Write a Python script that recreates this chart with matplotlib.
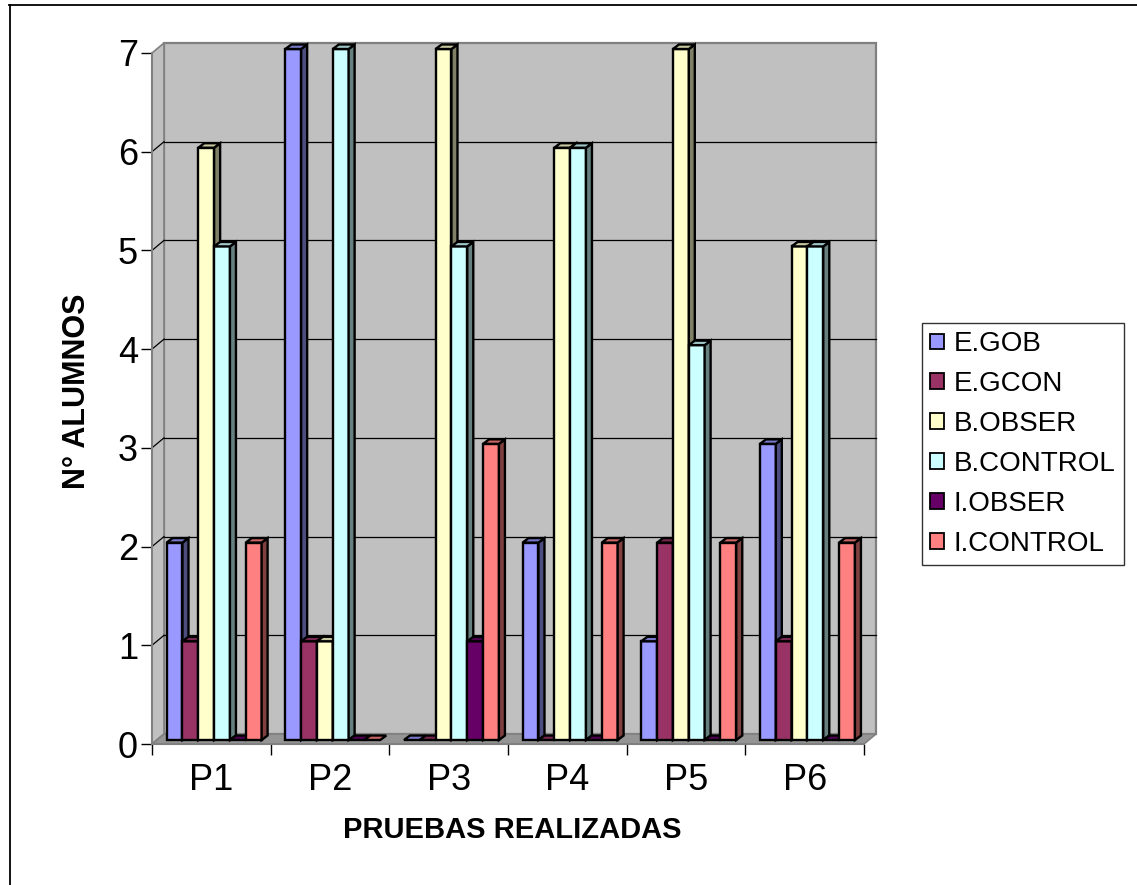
import numpy as np
import matplotlib
matplotlib.use("Agg")
import matplotlib.pyplot as plt
from matplotlib.patches import Polygon, Patch
from matplotlib.lines import Line2D
from matplotlib.colors import to_rgb

plt.rcParams['font.family'] = ['Liberation Sans', 'DejaVu Sans']

categories = ["P1", "P2", "P3", "P4", "P5", "P6"]
series_names = ["E.GOB", "E.GCON", "B.OBSER", "B.CONTROL", "I.OBSER", "I.CONTROL"]
e_gob = [2, 7, 0, 2, 1, 3]
e_gcon = [1, 1, 0, 0, 2, 1]
b_obser = [6, 1, 7, 6, 7, 5]
b_control = [5, 7, 5, 6, 4, 5]
i_obser = [0, 0, 1, 0, 0, 0]
i_control = [2, 0, 3, 2, 2, 2]
series_values = [e_gob, e_gcon, b_obser, b_control, i_obser, i_control]
colors = ["#9999FF", "#993366", "#FFFFCC", "#CCFFFF", "#660066", "#FF8080"]
y_ticks = list(range(0, 8))

W, H = 1137, 885
fig = plt.figure(figsize=(W / 100, H / 100), dpi=100)

# front plane of the 3d box, in pixels
x0, x1 = 152, 864
y0, y1 = 744, 53
ax = fig.add_axes([x0 / W, 1 - y0 / H, (x1 - x0) / W, (y0 - y1) / H])
n_cat = len(categories)
ymax = 7
ax.set_xlim(0, n_cat)
ax.set_ylim(0, ymax)
ax.patch.set_visible(False)
for s in ax.spines.values():
    s.set_visible(False)

px = n_cat / (x1 - x0)      # data units per pixel, x
py = ymax / (y0 - y1)       # data units per pixel, y

# depth of walls and of bars (pixels)
wdx, wdy = 12 * px, 10 * py
fdx, fdy = 2.8 * px, 4 * py
bdx, bdy = 6 * px, 4.5 * py

wall = "#C0C0C0"
edge_gray = "#808080"

# back wall
ax.add_patch(Polygon([(wdx, wdy), (n_cat + wdx, wdy), (n_cat + wdx, ymax + wdy), (wdx, ymax + wdy)],
                     closed=True, fc=wall, ec=edge_gray, lw=1.6, clip_on=False, zorder=1))
# left wall
ax.add_patch(Polygon([(0, 0), (wdx, wdy), (wdx, ymax + wdy), (0, ymax)],
                     closed=True, fc=wall, ec=edge_gray, lw=1.2, clip_on=False, zorder=1))
# floor
ax.add_patch(Polygon([(0, 0), (n_cat, 0), (n_cat + wdx, wdy), (wdx, wdy)],
                     closed=True, fc="#959595", ec=edge_gray, lw=1.2, clip_on=False, zorder=1))

# gridlines on back wall and left wall
for t in y_ticks[1:-1]:
    ax.plot([wdx, n_cat + wdx], [t + wdy, t + wdy], color="black", lw=0.9, zorder=2, clip_on=False)
for t in y_ticks[1:-1]:
    ax.plot([0, wdx], [t, t + wdy], color="black", lw=0.9, zorder=2, clip_on=False)

# front axis lines
ax.plot([0, 0], [0, ymax], color=edge_gray, lw=1.5, zorder=2, clip_on=False)
ax.plot([0, n_cat], [0, 0], color=edge_gray, lw=1.5, zorder=2, clip_on=False)


def shade(c, f):
    r, g, b = to_rgb(c)
    return (r * f, g * f, b * f)


n_ser = len(series_names)
gap = 1.5
bw = 1.0 / (n_ser + gap)
for i in range(n_cat):
    for j in range(n_ser):
        v = series_values[j][i]
        xl = i + gap * bw / 2 + j * bw + fdx
        xr = xl + bw
        yb = fdy
        yt = v + fdy
        c = colors[j]
        z = 3 + i * 0.1 + j * 0.01
        if v > 0:
            ax.add_patch(Polygon([(xl, yb), (xr, yb), (xr, yt), (xl, yt)], closed=True,
                                 fc=c, ec="black", lw=1.7, clip_on=False, zorder=z, joinstyle="miter"))
            ax.add_patch(Polygon([(xr, yb), (xr + bdx, yb + bdy), (xr + bdx, yt + bdy), (xr, yt)],
                                 closed=True, fc=shade(c, 0.5), ec="black", lw=1.7,
                                 clip_on=False, zorder=z, joinstyle="miter"))
        ax.add_patch(Polygon([(xl, yt), (xr, yt), (xr + bdx, yt + bdy), (xl + bdx, yt + bdy)],
                             closed=True, fc=shade(c, 0.78), ec="black", lw=1.7,
                             clip_on=False, zorder=z + 0.001, joinstyle="miter"))

# ticks
ax.set_yticks(y_ticks)
ax.set_yticklabels([str(t) for t in y_ticks], fontsize=26)
ax.tick_params(axis="y", length=8, width=1, color="black", pad=2)
ax.set_xticks(range(n_cat + 1))
ax.set_xticklabels([])
ax.tick_params(axis="x", which="major", length=8, width=1, color="black")
ax.set_xticks(np.arange(n_cat) + 0.5, minor=True)
ax.set_xticklabels(categories, minor=True, fontsize=26)
ax.tick_params(axis="x", which="minor", length=0, pad=14)

fig.text(77 / W, 1 - 391 / H, "N° ALUMNOS", rotation=90, ha="center", va="center",
         fontsize=22, fontweight="bold")
fig.text(512 / W, 1 - 830 / H, "PRUEBAS REALIZADAS", ha="center", va="center",
         fontsize=21, fontweight="bold")

handles = [Patch(facecolor=c, edgecolor="black", lw=1.3) for c in colors]
leg = fig.legend(handles, series_names, loc="upper left",
                 bbox_to_anchor=(922 / W, 1 - 323 / H), bbox_transform=fig.transFigure,
                 fontsize=20, frameon=True, fancybox=False, borderaxespad=0,
                 handlelength=0.5, handleheight=0.5, handletextpad=0.35,
                 labelspacing=0.5, borderpad=0.3)
leg.get_frame().set_edgecolor("black")
leg.get_frame().set_linewidth(1.0)

# outer border (top and left visible)
fig.add_artist(Line2D([9 / W, 1], [1 - 4.5 / H, 1 - 4.5 / H], transform=fig.transFigure,
                      color="black", lw=1.3))
fig.add_artist(Line2D([9.5 / W, 9.5 / W], [0, 1 - 4.5 / H], transform=fig.transFigure,
                      color="black", lw=1.3))

fig.savefig("out.png", dpi=100)
